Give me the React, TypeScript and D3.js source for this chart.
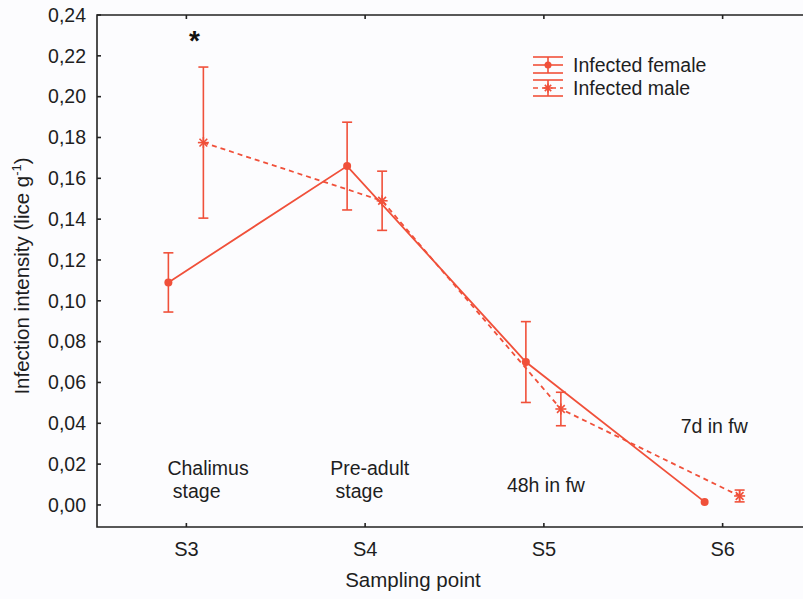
import React, { useEffect, useRef } from "react";
import * as d3 from "d3";

const samplingPoints = ["S3", "S4", "S5", "S6"];
const femaleMean = [0.109, 0.166, 0.070, 0.0015];
const femaleSE = [0.0145, 0.0215, 0.0198, 0];
const maleMean = [0.1775, 0.149, 0.047, 0.0044];
const maleSE = [0.037, 0.0145, 0.0082, 0.0029];
const yTicks = [0, 0.02, 0.04, 0.06, 0.08, 0.1, 0.12, 0.14, 0.16, 0.18, 0.2, 0.22, 0.24];
const stageLabels = [
  { at: "S3", lines: ["Chalimus", " stage"], dx: -19, value: 0.0148 },
  { at: "S4", lines: ["Pre-adult", " stage"], dx: -35, value: 0.0148 },
  { at: "S5", lines: ["48h in fw"], dx: -37, value: 0.0063 },
  { at: "S6", lines: ["7d in fw"], dx: -42, value: 0.0353 },
];

const RED = "#f0503a";
const INK = "#1e1e1e";
const FONT = "'Liberation Sans', Arial, sans-serif";

const App = () => {
  const ref = useRef<SVGSVGElement>(null);

  useEffect(() => {
    const W = 803;
    const H = 599;
    const left = 97;
    const top = 15;
    const bottom = 527;

    const svg = d3.select(ref.current);
    svg.selectAll("*").remove();

    const x = d3.scalePoint().domain(samplingPoints).range([left, 812]).padding(0.5);
    const y = d3.scaleLinear().domain([-0.0108, 0.24]).range([bottom, top]);

    svg.append("rect").attr("width", W).attr("height", H).attr("fill", "#fcfcfe");

    // frame: left, top, bottom
    const frame = svg.append("g").attr("stroke", "#222").attr("stroke-width", 1.6).attr("fill", "none");
    frame.append("path").attr("d", `M${W + 5},${top}H${left}V${bottom}H${W + 5}`);

    // inward ticks
    yTicks.forEach((t) => {
      frame.append("line").attr("x1", left).attr("x2", left + 4).attr("y1", y(t)).attr("y2", y(t));
    });
    samplingPoints.forEach((s) => {
      frame.append("line").attr("x1", x(s)!).attr("x2", x(s)!).attr("y1", bottom).attr("y2", bottom - 4);
      frame.append("line").attr("x1", x(s)!).attr("x2", x(s)!).attr("y1", top).attr("y2", top + 4);
    });

    // tick labels
    svg
      .append("g")
      .selectAll("text")
      .data(yTicks)
      .join("text")
      .attr("x", 86)
      .attr("y", (d) => y(d))
      .attr("dy", "0.35em")
      .attr("text-anchor", "end")
      .attr("font-family", FONT)
      .attr("font-size", 19.5)
      .attr("fill", INK)
      .text((d) => d3.format(".2f")(d).replace(".", ","));

    svg
      .append("g")
      .selectAll("text")
      .data(samplingPoints)
      .join("text")
      .attr("x", (d) => x(d)!)
      .attr("y", 556)
      .attr("text-anchor", "middle")
      .attr("font-family", FONT)
      .attr("font-size", 20)
      .attr("fill", INK)
      .text((d) => d);

    svg
      .append("text")
      .attr("x", 413)
      .attr("y", 587)
      .attr("text-anchor", "middle")
      .attr("font-family", FONT)
      .attr("font-size", 20.5)
      .attr("fill", INK)
      .text("Sampling point");

    const yTitle = svg
      .append("text")
      .attr("transform", `translate(29,276) rotate(-90)`)
      .attr("text-anchor", "middle")
      .attr("font-family", FONT)
      .attr("font-size", 20.5)
      .attr("fill", INK);
    yTitle.append("tspan").text("Infection intensity (lice g");
    yTitle.append("tspan").attr("dy", -8).attr("font-size", 13).text("-1");
    yTitle.append("tspan").attr("dy", 8).text(")");

    // series
    const series = [
      { mean: femaleMean, se: femaleSE, dx: -18, dash: null, marker: "dot" },
      { mean: maleMean, se: maleSE, dx: 17, dash: "5,4", marker: "star" },
    ];

    const drawStar = (g: any, cx: number, cy: number, r: number) => {
      for (let i = 0; i < 4; i++) {
        const a = (i * Math.PI) / 4;
        g.append("line")
          .attr("x1", cx - r * Math.cos(a))
          .attr("y1", cy - r * Math.sin(a))
          .attr("x2", cx + r * Math.cos(a))
          .attr("y2", cy + r * Math.sin(a))
          .attr("stroke", RED)
          .attr("stroke-width", 1.6);
      }
    };

    series.forEach((s) => {
      const g = svg.append("g");
      const pts = samplingPoints.map((p, i) => [x(p)! + s.dx, y(s.mean[i])] as [number, number]);
      g.append("path")
        .attr("d", d3.line()(pts))
        .attr("fill", "none")
        .attr("stroke", RED)
        .attr("stroke-width", 1.8)
        .attr("stroke-dasharray", s.dash);

      samplingPoints.forEach((p, i) => {
        const cx = x(p)! + s.dx;
        if (s.se[i] > 0) {
          const y1 = y(s.mean[i] + s.se[i]);
          const y2 = y(s.mean[i] - s.se[i]);
          g.append("line").attr("x1", cx).attr("x2", cx).attr("y1", y1).attr("y2", y2).attr("stroke", RED).attr("stroke-width", 1.6);
          [y1, y2].forEach((yy) =>
            g.append("line").attr("x1", cx - 5).attr("x2", cx + 5).attr("y1", yy).attr("y2", yy).attr("stroke", RED).attr("stroke-width", 1.6)
          );
        }
        if (s.marker === "dot") {
          g.append("circle").attr("cx", cx).attr("cy", y(s.mean[i])).attr("r", 4).attr("fill", RED);
        } else {
          drawStar(g, cx, y(s.mean[i]), 5.5);
        }
      });
    });

    // significance star
    svg
      .append("text")
      .attr("x", x("S3")! + 8)
      .attr("y", 50)
      .attr("text-anchor", "middle")
      .attr("font-family", FONT)
      .attr("font-size", 28)
      .attr("font-weight", "bold")
      .attr("fill", "#111")
      .text("*");

    // stage annotations
    stageLabels.forEach((l) => {
      const t = svg
        .append("text")
        .attr("x", x(l.at)! + l.dx)
        .attr("y", y(l.value))
        .attr("font-family", FONT)
        .attr("font-size", 19.5)
        .attr("fill", INK)
        .attr("xml:space", "preserve");
      l.lines.forEach((line, i) => {
        t.append("tspan").attr("x", x(l.at)! + l.dx).attr("dy", i === 0 ? 0 : 23).text(line);
      });
    });

    // legend
    const legend = svg.append("g").attr("transform", "translate(548,0)");
    const legendItems = [
      { label: "Infected female", cy: 65, dash: null, marker: "dot" },
      { label: "Infected male", cy: 88, dash: "5,4", marker: "star" },
    ];
    legendItems.forEach((it) => {
      const lg = legend.append("g");
      lg.append("line").attr("x1", -15).attr("x2", 15).attr("y1", it.cy).attr("y2", it.cy)
        .attr("stroke", RED).attr("stroke-width", 1.6).attr("stroke-dasharray", it.dash);
      [it.cy - 8, it.cy + 8].forEach((yy) =>
        lg.append("line").attr("x1", -15).attr("x2", 15).attr("y1", yy).attr("y2", yy).attr("stroke", RED).attr("stroke-width", 1.6)
      );
      lg.append("line").attr("x1", 0).attr("x2", 0).attr("y1", it.cy - 8).attr("y2", it.cy + 8).attr("stroke", RED).attr("stroke-width", 1.6);
      if (it.marker === "dot") {
        lg.append("circle").attr("cx", 0).attr("cy", it.cy).attr("r", 3.5).attr("fill", RED);
      } else {
        drawStar(lg, 0, it.cy, 4.5);
      }
      lg.append("text")
        .attr("x", 25)
        .attr("y", it.cy)
        .attr("dy", "0.35em")
        .attr("font-family", FONT)
        .attr("font-size", 19.5)
        .attr("fill", INK)
        .text(it.label);
    });
  }, []);

  return (
    <svg
      ref={ref}
      width={803}
      height={599}
      style={{ position: "absolute", left: 0, top: 0, display: "block" }}
    />
  );
};

export default App;
